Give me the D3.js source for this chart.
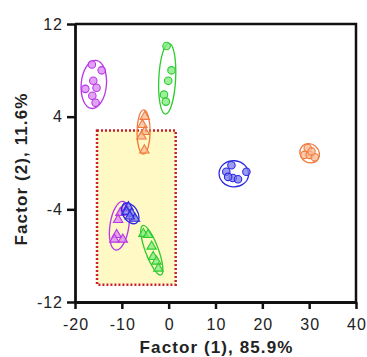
<!DOCTYPE html>
<html>
<head>
<meta charset="utf-8">
<script src="https://cdn.jsdelivr.net/npm/d3@7"></script>
<style>
  body { margin: 0; background: #fff; }
  text { font-family: "Liberation Sans", Arial, sans-serif; }
</style>
</head>
<body>
<div id="chart"></div>
<script>
// groups: [x, y] in factor units
const purpleCircles = [[-16.4, 8.5], [-14.3, 8.0], [-16.1, 7.1], [-15.4, 6.5], [-17.8, 6.4], [-16.3, 5.8], [-15.6, 5.2]];
const greenCircles = [[-0.45, 10.1], [0.6, 8.0], [-0.1, 7.1], [-1.0, 5.9], [-0.6, 5.3]];
const orangeTriangles = [[-5.1, 4.0], [-5.6, 3.3], [-5.1, 2.7], [-5.8, 2.3], [-5.2, 1.1]];
const blueCircles = [[13.4, -0.2], [12.3, -0.75], [13.7, -1.3], [14.8, -1.4], [16.6, -0.75], [12.7, -1.2]];
const orangeCircles = [[29.7, 1.3], [29.0, 0.7], [30.1, 0.7], [31.2, 0.5], [30.5, 1.0]];
const purpleTriangles = [[-9.5, -3.9], [-10.3, -4.3], [-10.8, -4.9], [-11.1, -6.2], [-9.8, -6.6], [-11.6, -6.6]];
const blueTriangles = [[-8.6, -3.8], [-9.0, -4.2], [-7.9, -4.35], [-7.2, -4.8], [-8.3, -4.6]];
const greenTriangles = [[-5.4, -6.1], [-4.4, -6.2], [-3.65, -7.2], [-3.3, -8.1], [-2.6, -8.5], [-2.2, -9.1]];

const highlightBox = { x0: -15.3, x1: 1.5, y0: -10.5, y1: 2.8 };

const xTicks = [-20, -10, 0, 10, 20, 30, 40];
const yTicks = [-12, -4, 4, 12];

const groups = [
  { pts: purpleCircles, shape: "circle", fill: "#d884f4", stroke: "#b836e8" },
  { pts: greenCircles, shape: "circle", fill: "#7ee87e", stroke: "#2ccc2c" },
  { pts: orangeTriangles, shape: "triangle", fill: "#f8b890", stroke: "#f07a3c" },
  { pts: blueCircles, shape: "circle", fill: "#7a7aee", stroke: "#2a2ae0" },
  { pts: orangeCircles, shape: "circle", fill: "#f8b890", stroke: "#f07a3c" },
  { pts: purpleTriangles, shape: "triangle", fill: "#d884f4", stroke: "#b836e8" },
  { pts: blueTriangles, shape: "triangle", fill: "#7a7aee", stroke: "#2a2ae0" },
  { pts: greenTriangles, shape: "triangle", fill: "#7ee87e", stroke: "#2ccc2c" }
];

const margin = { top: 24, right: 11, bottom: 55, left: 75 };
const width = 367 - margin.left - margin.right;
const height = 357 - margin.top - margin.bottom;

const svg = d3.select("#chart").append("svg")
  .attr("width", 367).attr("height", 357)
  .append("g")
  .attr("transform", `translate(${margin.left},${margin.top})`);

const x = d3.scaleLinear().domain([-20, 40]).range([0, width]);
const y = d3.scaleLinear().domain([-12, 12]).range([height, 0]);

// highlight rectangle
svg.append("rect")
  .attr("x", x(highlightBox.x0))
  .attr("y", y(highlightBox.y1))
  .attr("width", x(highlightBox.x1) - x(highlightBox.x0))
  .attr("height", y(highlightBox.y0) - y(highlightBox.y1))
  .attr("fill", "#fff9c6")
  .attr("stroke", "#c8202a")
  .attr("stroke-width", 2.5)
  .attr("stroke-dasharray", "2,2");

// spread ellipse for each group (principal axes, pixel space)
function ellipseFor(pts) {
  const px = pts.map(p => [x(p[0]), y(p[1])]);
  const n = px.length;
  const mx = d3.mean(px, p => p[0]), my = d3.mean(px, p => p[1]);
  let sxx = 0, syy = 0, sxy = 0;
  px.forEach(p => {
    sxx += (p[0] - mx) ** 2; syy += (p[1] - my) ** 2; sxy += (p[0] - mx) * (p[1] - my);
  });
  sxx /= n; syy /= n; sxy /= n;
  const tr = (sxx + syy) / 2, det = Math.sqrt(((sxx - syy) / 2) ** 2 + sxy ** 2);
  const l1 = tr + det, l2 = Math.max(tr - det, 0);
  const ang = 0.5 * Math.atan2(2 * sxy, sxx - syy);
  return {
    cx: mx, cy: my,
    rx: 1.6 * Math.sqrt(l1) + 4,
    ry: 1.9 * Math.sqrt(l2) + 4,
    deg: ang * 180 / Math.PI
  };
}

groups.forEach(g => {
  const e = ellipseFor(g.pts);
  svg.append("ellipse")
    .attr("cx", 0).attr("cy", 0)
    .attr("rx", e.rx).attr("ry", e.ry)
    .attr("transform", `translate(${e.cx},${e.cy}) rotate(${e.deg})`)
    .attr("fill", "none")
    .attr("stroke", g.stroke)
    .attr("stroke-width", 1.3);

  const sym = d3.symbol().type(g.shape === "circle" ? d3.symbolCircle : d3.symbolTriangle)
    .size(g.shape === "circle" ? 44 : 38);
  svg.append("g").selectAll("path")
    .data(g.pts)
    .enter().append("path")
    .attr("d", sym)
    .attr("transform", d => `translate(${x(d[0])},${y(d[1])})`)
    .attr("fill", g.fill)
    .attr("fill-opacity", 0.75)
    .attr("stroke", g.stroke)
    .attr("stroke-width", 1.1);
});

// frame (top and right)
svg.append("path")
  .attr("d", `M0,0H${width}V${height}`)
  .attr("fill", "none")
  .attr("stroke", "#111")
  .attr("stroke-width", 2.5);

const xAxis = svg.append("g")
  .attr("transform", `translate(0,${height})`)
  .call(d3.axisBottom(x).tickValues(xTicks).tickSize(7).tickSizeOuter(0).tickPadding(10)
    .tickFormat(d => String(d)));
const yAxis = svg.append("g")
  .call(d3.axisLeft(y).tickValues(yTicks).tickSize(8).tickSizeOuter(0).tickPadding(4)
    .tickFormat(d => String(d)));

[xAxis, yAxis].forEach(a => {
  a.select(".domain").attr("stroke", "#111").attr("stroke-width", 2.8);
  a.selectAll(".tick line").attr("stroke", "#111").attr("stroke-width", 2.5);
  a.selectAll(".tick text")
    .style("font-family", "'Liberation Sans', Arial, sans-serif")
    .style("font-size", "16px")
    .style("letter-spacing", "1px")
    .attr("fill", "#222");
});
xAxis.selectAll(".tick text").attr("dx", "0.5px");

svg.append("text")
  .attr("x", width / 2 + 1)
  .attr("y", height + 51)
  .attr("text-anchor", "middle")
  .style("font-size", "17px")
  .style("font-weight", "bold")
  .style("letter-spacing", "1.1px")
  .attr("fill", "#222")
  .text("Factor (1), 85.9%");

svg.append("text")
  .attr("transform", `translate(${-48},${height / 2 + 6}) rotate(-90)`)
  .attr("text-anchor", "middle")
  .style("font-size", "17px")
  .style("font-weight", "bold")
  .style("letter-spacing", "1.1px")
  .attr("fill", "#222")
  .text("Factor (2), 11.6%");
</script>
</body>
</html>
